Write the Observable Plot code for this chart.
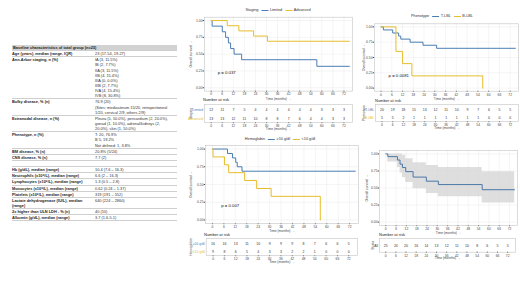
<!DOCTYPE html>
<html><head><meta charset="utf-8">
<script src="https://cdn.jsdelivr.net/npm/d3@7"></script>
<script src="https://cdn.jsdelivr.net/npm/@observablehq/plot@0.6"></script>
<style>
html,body{margin:0;padding:0;background:#fff;}
#root{position:relative;width:520px;height:292px;overflow:hidden;background:#fff;font-family:"Liberation Sans",Arial,sans-serif;}
#tbl{width:165px;font-size:3.9px;color:#222;}
.tr{display:flex;border-bottom:0.5px solid #cfcfcf;}
.c1{width:83px;font-weight:bold;}
.c2{flex:1;color:#333;}
.line{height:5.15px;line-height:5.15px;white-space:nowrap;}
.hdr{background:#d2d2d2;font-weight:bold;}
.leg{font-size:3.8px;color:#333;white-space:nowrap;transform:translateX(-50%);line-height:5px;}
.key{display:inline-block;width:7px;height:0;border-top:1px solid;vertical-align:middle;margin:0 1.5px 0 3px;}
.nar{font-size:4px;color:#222;line-height:5px;white-space:nowrap;}
svg{overflow:visible;}
</style></head><body><div id="root"></div>
<script>
// ---------- data ----------
const months = [0,6,12,18,24,30,36,42,48,54,60,66,72];
const yTicks = [0,0.25,0.5,0.75,1];
const blue = "#4a7db3", yellow = "#e6bd2b";

// Panel 1 - Staging
const stagingGroups = ["Limited", "Advanced"];
const limitedTime = [0, 0.5, 6, 7.8, 9.3, 10.5, 12.4, 16.5, 57.3, 75];
const limitedSurv = [1, 0.917, 0.833, 0.75, 0.667, 0.583, 0.5, 0.417, 0.319, 0.319];
const advancedTime = [0, 8.7, 15, 23, 30.5, 75];
const advancedSurv = [1, 0.923, 0.846, 0.769, 0.692, 0.692];
const limitedRisk = [12, 11, 7, 5, 4, 4, 4, 4, 4, 4, 3, 3, 3];
const advancedRisk = [13, 13, 12, 11, 10, 8, 8, 7, 6, 4, 4, 3, 3];

// Panel 2 - Phenotype
const phenoGroups = ["T-LBL", "B-LBL"];
const tTime = [0, 1.3, 6.5, 9.8, 11, 16.2, 23.4, 31, 75];
const tSurv = [1, 0.95, 0.9, 0.85, 0.8, 0.75, 0.7, 0.65, 0.65];
const bTime = [0, 8.3, 12, 17.2, 56.7];
const bSurv = [1, 0.6, 0.4, 0.2, 0];
const tRisk = [20, 19, 18, 15, 13, 12, 11, 10, 9, 7, 6, 5, 5];
const bRisk = [5, 5, 2, 1, 1, 1, 1, 1, 1, 1, 0, 0, 0];

// Panel 3 - Hemoglobin
const hbGroups = ["≥10 g/dl", "<10 g/dl"];
const hbHighTime = [0, 7.9, 10.5, 12.2, 13, 15.5, 75];
const hbHighSurv = [1, 0.9375, 0.875, 0.8125, 0.75, 0.6875, 0.6875];
const hbLowTime = [0, 0.3, 6.3, 8.5, 16.9, 23.2, 30.8, 56.6];
const hbLowSurv = [1, 0.889, 0.778, 0.667, 0.556, 0.444, 0.333, 0];
const hbHighRisk = [16, 16, 13, 11, 10, 9, 9, 9, 8, 7, 6, 6, 5];
const hbLowRisk = [9, 8, 6, 5, 4, 3, 3, 2, 2, 1, 0, 0, 0];

// Panel 4 - whole cohort with 95% CI
const allTime  = [0, 1.2, 6.8, 8.3, 9.7, 11.6, 15.9, 23.6, 30.6, 56.1, 75];
const allSurv  = [1, 0.96, 0.91, 0.85, 0.80, 0.74, 0.66, 0.60, 0.55, 0.475, 0.475];
const allUpper = [1, 1, 1, 1, 0.98, 0.93, 0.87, 0.83, 0.80, 0.74, 0.74];
const allLower = [1, 0.88, 0.80, 0.72, 0.65, 0.58, 0.49, 0.42, 0.37, 0.28, 0.28];
const allRisk  = [25, 24, 20, 16, 14, 13, 12, 11, 10, 8, 6, 5, 5];

// Baseline table
const tableTitle = "Baseline characteristics of total group (n=25)";
const tableLabels = [
  "Age (years), median (range, IQR)",
  "Ann-Arbor staging, n (%)",
  "Bulky disease, % (n)",
  "Extranodal disease, n (%)",
  "Phenotype, n (%)",
  "BM disease, % (n)",
  "CNS disease, % (n)",
  "",
  "Hb (g/dL), median (range)",
  "Neutrophils (x10⁹/L), median (range)",
  "Lymphocytes (x10⁹/L), median (range)",
  "Monocytes (x10⁹/L), median (range)",
  "Platelets (x10⁹/L), median (range)",
  "Lactate dehydrogenase (IU/L), median|(range)",
  "2x higher than ULN LDH - % (n)",
  "Albumin (g/dL), median (range)"
];
const tableValues = [
  ["23 (17-54, 19-27)"],
  ["IA (3, 11.5%)","IB (2, 7.7%)","IIA (3, 11.5%)","IIB (4, 15.4%)","IIIA (0, 0.0%)","IIIB (2, 7.7%)","IVA (4, 15.4%)","IVB (8, 30.8%)"],
  ["76.9 (20)","(Sites: mediastinum 15/20, retroperitoneal","1/20, cervical 2/9, others 2/9)"],
  ["Pleura (5, 50.0%), pericardium (2, 20.0%),","gonad (1, 10.0%), adrenal/kidneys (2,","20.0%), skin (1, 10.0%)"],
  ["T: 20, 76.9%","B 5, 19.2%","Not defined: 1, 3.8%"],
  ["20.8% (5/24)"],
  ["7.7 (2)"],
  [""],
  ["10.4 (7.6 – 16.3)"],
  ["6.6 (2 – 16.3)"],
  ["1.3 (0.5 – 2.8)"],
  ["0.62 (0.24 – 1.37)"],
  ["319 (191 – 552)"],
  ["640 (224 – 2860)"],
  ["40 (10)"],
  ["3.7 (1.6-5.1)"]
];

// ---------- layout helpers ----------
const root = document.getElementById("root");
const xDom = [-3.65, 76.65];

function place(el, left, top) {
  el.style.position = "absolute";
  el.style.left = left + "px";
  el.style.top = top + "px";
  root.appendChild(el);
}
function html(str, cls, left, top) {
  const d = document.createElement("div");
  d.className = cls; d.innerHTML = str;
  place(d, left, top);
  return d;
}
const steps = (ts, ss) => ts.map((t, i) => ({t, s: ss[i]}));

function kmPlot({box, frame, series, band, pv, ylabelOffset}) {
  const [L, T, W, H] = box, [fx0, fx1, fy0, fy1] = frame;
  const marks = [
    Plot.ruleX(months, {stroke: "#ebebeb", strokeWidth: 0.5}),
    Plot.ruleY(yTicks, {stroke: "#ebebeb", strokeWidth: 0.5})
  ];
  if (band) marks.push(Plot.areaY(band, {x: "t", y1: "lo", y2: "hi", curve: "step-after", fill: "#d3d3d3", fillOpacity: 0.75}));
  for (const s of series) marks.push(Plot.line(s.data, {x: "t", y: "s", curve: "step-after", stroke: s.color, strokeWidth: 1}));
  marks.push(Plot.frame({stroke: "#c4c4c4", strokeWidth: 0.6}));
  if (pv) marks.push(Plot.text([pv], {x: "t", y: "s", text: "text", textAnchor: "start", fontSize: 4.3, fill: "#111"}));
  const svg = Plot.plot({
    width: W, height: H,
    marginLeft: fx0 - L, marginRight: L + W - fx1, marginTop: fy0 - T, marginBottom: T + H - fy1,
    style: {fontSize: "3.3px", fontFamily: "Liberation Sans, Arial, sans-serif", background: "transparent", color: "#444"},
    x: {domain: xDom, ticks: months, tickSize: 1.2, tickPadding: 0.8, label: "Time (months)", labelAnchor: "center", labelOffset: 8.5},
    y: {domain: [-0.05, 1.05], ticks: yTicks, tickFormat: ".2f", tickSize: 1.2, tickPadding: 0.8, label: "Overall survival", labelAnchor: "center", labelOffset: ylabelOffset},
    marks
  });
  place(svg, L, T);
}

function riskPlot({box, frame, rows, title, ylabelOffset}) {
  const [L, T, W, H] = box, [fx0, fx1, fy0, fy1] = frame;
  const data = rows.flatMap(r => months.map((m, i) => ({t: m, g: r.name, n: r.risk[i]})));
  const marks = [Plot.frame({stroke: "#c4c4c4", strokeWidth: 0.6}),
    Plot.text(data, {x: "t", y: "g", text: "n", fontSize: 3.5, fill: "#333"})];
  for (const r of rows) marks.push(Plot.text([r.name], {y: d => d, text: d => d, frameAnchor: "left", textAnchor: "end", dx: -1.5, fill: r.color, fontSize: 3.3}));
  const svg = Plot.plot({
    width: W, height: H,
    marginLeft: fx0 - L, marginRight: L + W - fx1, marginTop: fy0 - T, marginBottom: T + H - fy1,
    style: {fontSize: "3.3px", fontFamily: "Liberation Sans, Arial, sans-serif", background: "transparent", color: "#444"},
    x: {domain: xDom, ticks: months, tickSize: 1.2, tickPadding: 0.8, label: "Time (months)", labelAnchor: "center", labelOffset: 7},
    y: {domain: rows.map(r => r.name), tickSize: 0, tickFormat: () => "", label: title, labelAnchor: "center", labelOffset: ylabelOffset},
    marks
  });
  place(svg, L, T);
}

function legend(title, groups, colors, cx, top) {
  let s = title;
  groups.forEach((g, i) => { s += `<span class="key" style="border-color:${colors[i]}"></span>${g}`; });
  html(s, "leg", cx, top);
}

// ---------- table ----------
(function buildTable() {
  const t = document.createElement("div");
  t.id = "tbl";
  let s = `<div class="tr hdr"><div class="line" style="padding-left:1px">${tableTitle}</div></div>`;
  tableLabels.forEach((lab, i) => {
    const labs = lab.split("|").map(x => `<div class="line">${x || "&nbsp;"}</div>`).join("");
    const vals = tableValues[i].map(x => `<div class="line">${x || "&nbsp;"}</div>`).join("");
    s += `<div class="tr"><div class="c1">${labs}</div><div class="c2">${vals}</div></div>`;
  });
  t.innerHTML = s;
  place(t, 12, 45);
})();

// ---------- Panel 1 ----------
legend("Staging", stagingGroups, [blue, yellow], 278, 8.3);
kmPlot({box: [180, 13, 178, 88], frame: [204, 352, 16.7, 90.6],
  series: [{data: steps(limitedTime, limitedSurv), color: blue}, {data: steps(advancedTime, advancedSurv), color: yellow}],
  pv: {t: 3.5, s: 0.22, text: "p = 0.037"}, ylabelOffset: 15});
html("Number at risk", "nar", 203, 97);
riskPlot({box: [180, 103, 178, 27], frame: [204, 352, 104, 122],
  rows: [{name: stagingGroups[0], risk: limitedRisk, color: blue}, {name: stagingGroups[1], risk: advancedRisk, color: yellow}],
  title: "Staging", ylabelOffset: 15});

// ---------- Panel 2 ----------
legend("Phenotype", phenoGroups, [blue, yellow], 442, 14.3);
kmPlot({box: [358, 20, 162, 81], frame: [374, 518, 23.3, 90.7],
  series: [{data: steps(tTime, tSurv), color: blue}, {data: steps(bTime, bSurv), color: yellow}],
  pv: {t: 4.2, s: 0.2, text: "p = 0.0081"}, ylabelOffset: 12});
html("Number at risk", "nar", 375, 97.5);
riskPlot({box: [358, 103, 162, 27], frame: [375, 518, 104, 121],
  rows: [{name: phenoGroups[0], risk: tRisk, color: blue}, {name: phenoGroups[1], risk: bRisk, color: yellow}],
  title: "Phenotype", ylabelOffset: 13});

// ---------- Panel 3 ----------
legend("Hemoglobin", hbGroups, [blue, yellow], 280, 137);
kmPlot({box: [180, 142, 180, 90], frame: [205, 358, 145, 223],
  series: [{data: steps(hbHighTime, hbHighSurv), color: blue}, {data: steps(hbLowTime, hbLowSurv), color: yellow}],
  pv: {t: 4.6, s: 0.2, text: "p = 0.007"}, ylabelOffset: 16});
html("Number at risk", "nar", 204, 231.5);
riskPlot({box: [180, 237, 180, 27], frame: [205.7, 357, 238, 255],
  rows: [{name: hbGroups[0], risk: hbHighRisk, color: blue}, {name: hbGroups[1], risk: hbLowRisk, color: yellow}],
  title: "Hemoglobin", ylabelOffset: 17});

// ---------- Panel 4 ----------
kmPlot({box: [358, 147, 162, 88], frame: [379, 517, 150, 225],
  series: [{data: steps(allTime, allSurv), color: "#4a78a6"}],
  band: allTime.map((t, i) => ({t, lo: allLower[i], hi: allUpper[i]})), ylabelOffset: 14});
html("Number at risk", "nar", 379, 231.5);
riskPlot({box: [358, 237, 162, 24], frame: [379, 515, 238, 251.7],
  rows: [{name: "All", risk: allRisk, color: "#333"}],
  title: "Strata", ylabelOffset: 8});
</script></body></html>
